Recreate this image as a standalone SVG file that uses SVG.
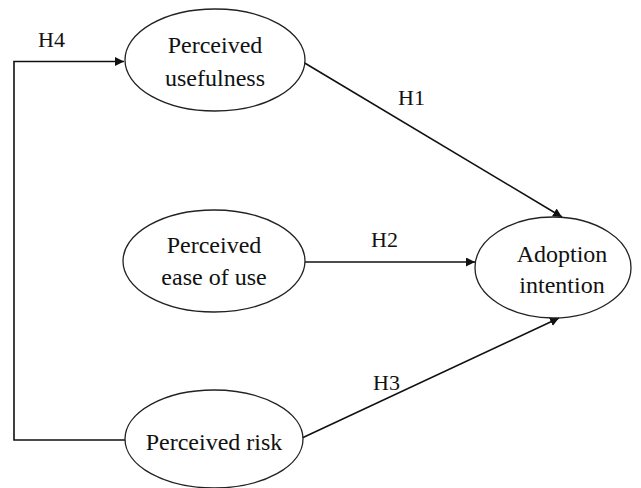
<svg xmlns="http://www.w3.org/2000/svg" width="641" height="488" viewBox="0 0 641 488">
<style>
.node ellipse{fill:#fff;stroke:#222;stroke-width:1.3}
.t{font-family:"Liberation Serif","Times New Roman",serif;font-size:24px;fill:#111;text-anchor:middle}
.lbl{font-family:"Liberation Serif","Times New Roman",serif;font-size:22px;fill:#111}
.c{fill:none;stroke:#111;stroke-width:1.6}
</style>
<defs>
<marker id="ah" viewBox="0 0 10 10" refX="10" refY="5" markerWidth="9" markerHeight="9" markerUnits="userSpaceOnUse" orient="auto">
<path d="M0,0 L10,5 L0,10 z" fill="#111"/>
</marker>
</defs>
<rect width="641" height="488" fill="#fff"/>
<g id="connectors">
<polyline class="c" points="126,440 14,440 14,61.5 124,61.5" marker-end="url(#ah)"/>
<line class="c" x1="303" y1="62" x2="562" y2="217" marker-end="url(#ah)"/>
<line class="c" x1="300" y1="262" x2="475" y2="262" marker-end="url(#ah)"/>
<line class="c" x1="302" y1="438" x2="559" y2="318" marker-end="url(#ah)"/>
<text class="lbl" x="38" y="47">H4</text>
<text class="lbl" x="398" y="105">H1</text>
<text class="lbl" x="371" y="247">H2</text>
<text class="lbl" x="373" y="390">H3</text>
</g>
<g id="pu" class="node">
<ellipse cx="215" cy="60" rx="90" ry="51"/>
<text class="t" x="215" y="53">Perceived</text>
<text class="t" x="215" y="86">usefulness</text>
</g>
<g id="peou" class="node">
<ellipse cx="214" cy="261" rx="91" ry="51"/>
<text class="t" x="214" y="253">Perceived</text>
<text class="t" x="214" y="285">ease of use</text>
</g>
<g id="pr" class="node">
<ellipse cx="214" cy="439" rx="89" ry="49"/>
<text class="t" x="214" y="450">Perceived risk</text>
</g>
<g id="ai" class="node">
<ellipse cx="553" cy="267.5" rx="78" ry="50.5"/>
<text class="t" x="562" y="262">Adoption</text>
<text class="t" x="562" y="293">intention</text>
</g>
</svg>
